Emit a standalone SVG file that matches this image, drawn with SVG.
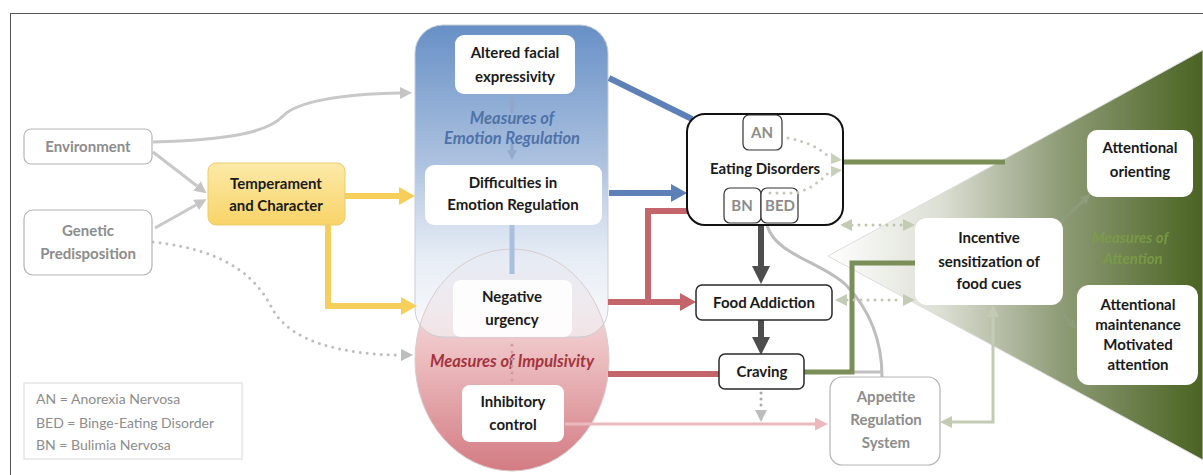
<svg xmlns="http://www.w3.org/2000/svg" width="1203" height="475" viewBox="0 0 1203 475">
<style>
text{font-family:Lato,"Liberation Sans",sans-serif;font-weight:bold;font-size:15px;fill:#1a1a1a;text-anchor:middle}
.g{fill:#8c8c8c}
.wbox{fill:#fff;stroke:none}
.gbox{fill:#fff;stroke:#b4b4b4;stroke-width:1.2}
.kbox{fill:#fff;stroke:#2a2a2a;stroke-width:1.5}
.leg{font-weight:normal;font-size:14px;fill:#8c8c8c;text-anchor:start}
.mer{font-style:italic;font-size:16.5px;fill:#4f72a8}
.mim{font-style:italic;font-size:16.5px;fill:#a3343f}
.mat{font-style:italic;font-size:15px;fill:#7c9e47;opacity:.85}
.c{fill:none}
</style>
<defs>
<linearGradient id="gBlue" x1="0" y1="0" x2="0" y2="1">
<stop offset="0" stop-color="#6890c6"/>
<stop offset="0.45" stop-color="#aec3e0"/>
<stop offset="0.75" stop-color="#e3eaf4" stop-opacity="0.85"/>
<stop offset="1" stop-color="#f4f5f8" stop-opacity="0.6"/>
</linearGradient>
<linearGradient id="gPink" x1="0" y1="0" x2="0" y2="1">
<stop offset="0" stop-color="#fbf4f4"/>
<stop offset="0.5" stop-color="#ecbcbf"/>
<stop offset="1" stop-color="#d37b82"/>
</linearGradient>
<linearGradient id="gYel" x1="0" y1="0" x2="0" y2="1">
<stop offset="0" stop-color="#fdeaa8"/>
<stop offset="1" stop-color="#f8d468"/>
</linearGradient>
<linearGradient id="gTri" gradientUnits="userSpaceOnUse" x1="828" y1="0" x2="1203" y2="0">
<stop offset="0" stop-color="#ffffff"/>
<stop offset="0.3" stop-color="#dcdfd4"/>
<stop offset="0.62" stop-color="#8f9c77"/>
<stop offset="1" stop-color="#4a6322"/>
</linearGradient>
<marker id="aGray" viewBox="0 0 10 10" refX="0" refY="5" markerWidth="12" markerHeight="12" markerUnits="userSpaceOnUse" orient="auto"><path d="M0,0L10,5L0,10z" fill="#c4c4c4"/></marker>
<marker id="aDot" viewBox="0 0 10 10" refX="0" refY="5" markerWidth="12" markerHeight="12" markerUnits="userSpaceOnUse" orient="auto"><path d="M0,0L10,5L0,10z" fill="#bdbdbd"/></marker>
<marker id="aYel" viewBox="0 0 10 10" refX="0" refY="5" markerWidth="16" markerHeight="18" markerUnits="userSpaceOnUse" orient="auto" preserveAspectRatio="none"><path d="M0,0L10,5L0,10z" fill="#f5cf5a"/></marker>
<marker id="aBlue" viewBox="0 0 10 10" refX="0" refY="5" markerWidth="16" markerHeight="18" markerUnits="userSpaceOnUse" orient="auto" preserveAspectRatio="none"><path d="M0,0L10,5L0,10z" fill="#5d80b6"/></marker>
<marker id="aRed" viewBox="0 0 10 10" refX="0" refY="5" markerWidth="16" markerHeight="18" markerUnits="userSpaceOnUse" orient="auto" preserveAspectRatio="none"><path d="M0,0L10,5L0,10z" fill="#c4656b"/></marker>
<marker id="aDark" viewBox="0 0 10 10" refX="0" refY="5" markerWidth="18" markerHeight="18" markerUnits="userSpaceOnUse" orient="auto" preserveAspectRatio="none"><path d="M0,0L10,5L0,10z" fill="#4d4d4d"/></marker>
<marker id="aGrn" viewBox="0 0 10 10" refX="0" refY="5" markerWidth="10" markerHeight="10" markerUnits="userSpaceOnUse" orient="auto"><path d="M0,0L10,5L0,10z" fill="#8e9c7c"/></marker>
<marker id="aLg" viewBox="0 0 10 10" refX="0" refY="5" markerWidth="12" markerHeight="12" markerUnits="userSpaceOnUse" orient="auto-start-reverse"><path d="M0,0L10,5L0,10z" fill="#c3cbb4"/></marker>
<marker id="aPink" viewBox="0 0 10 10" refX="0" refY="5" markerWidth="13" markerHeight="13" markerUnits="userSpaceOnUse" orient="auto"><path d="M0,0L10,5L0,10z" fill="#e9b9bd"/></marker>
<marker id="aEB" viewBox="0 0 10 10" refX="0" refY="5" markerWidth="10" markerHeight="10" markerUnits="userSpaceOnUse" orient="auto"><path d="M0,0L10,5L0,10z" fill="#8fa6c8" opacity="0.8"/></marker>
</defs>

<rect x="10.5" y="13.5" width="1200" height="470" fill="#fff" stroke="#555" stroke-width="1"/>

<g id="attention-region">
<polygon points="828,256 1203,50 1203,460" fill="url(#gTri)" stroke="#dcdcdc" stroke-width="1"/>
<text class="mat" x="1130" y="243">Measures of</text>
<text class="mat" x="1133" y="264">Attention</text>
</g>

<g id="regions">
<ellipse cx="512" cy="360" rx="97" ry="111" fill="url(#gPink)"/>
<rect x="415" y="25" width="193" height="312" rx="28" fill="url(#gBlue)"/>
<ellipse cx="512" cy="360" rx="97" ry="111" fill="none" stroke="#d8cccc" stroke-width="1"/>
<rect x="415" y="25" width="193" height="312" rx="28" fill="none" stroke="#c9cdd6" stroke-width="1"/>
<text class="mer" x="512" y="124">Measures of</text>
<text class="mer" x="512" y="144">Emotion Regulation</text>
<text class="mim" x="512" y="367">Measures of Impulsivity</text>
</g>

<g id="connectors">
<path class="c" d="M153,142 C230,140 268,132 283,116 C296,102 340,94 400,93" stroke="#c8c8c8" stroke-width="3" marker-end="url(#aGray)"/>
<path class="c" d="M153,152 L197,186" stroke="#c8c8c8" stroke-width="3" marker-end="url(#aGray)"/>
<path class="c" d="M155,228 L196,205" stroke="#c8c8c8" stroke-width="3" marker-end="url(#aGray)"/>
<path class="c" d="M153,242 C230,250 258,280 273,310 C290,340 340,355 401,355" stroke="#bdbdbd" stroke-width="3" stroke-linecap="round" stroke-dasharray="0 7" marker-end="url(#aDot)"/>
<path class="c" d="M345,196 L399,196" stroke="#f5cf5a" stroke-width="6" marker-end="url(#aYel)"/>
<path class="c" d="M328,225 L328,306 L401,306" stroke="#f5cf5a" stroke-width="6" marker-end="url(#aYel)"/>
<path class="c" d="M512,113 L512,105" stroke="#8fa6c8" stroke-width="3" marker-end="url(#aEB)"/>
<path class="c" d="M512,144 L512,150" stroke="#8fa6c8" stroke-width="3" marker-end="url(#aEB)"/>
<path class="c" d="M512,225 L512,274" stroke="#a9bfdc" stroke-width="5"/>
<path class="c" d="M512,345 L512,382" stroke="#cf9aa0" stroke-width="3" stroke-linecap="round" stroke-dasharray="0 7"/>
<path class="c" d="M609,78 L692,119" stroke="#5d80b6" stroke-width="6"/>
<path class="c" d="M609,193 L671,193" stroke="#5d80b6" stroke-width="6" marker-end="url(#aBlue)"/>
<path class="c" d="M608,302 L680,302" stroke="#c4656b" stroke-width="6" marker-end="url(#aRed)"/>
<path class="c" d="M648,302 L648,211 L708,211" stroke="#c4656b" stroke-width="6" marker-end="url(#aRed)"/>
<path class="c" d="M608,374 L719,374" stroke="#c4656b" stroke-width="6"/>
<path class="c" d="M565,424 L815,424" stroke="#e9b9bd" stroke-width="3" marker-end="url(#aPink)"/>
<path class="c" d="M761,225 L761,266" stroke="#4d4d4d" stroke-width="6" marker-end="url(#aDark)"/>
<path class="c" d="M761,320 L761,337" stroke="#4d4d4d" stroke-width="6" marker-end="url(#aDark)"/>
<path class="c" d="M761,393 L761,410" stroke="#aaaaaa" stroke-width="3" stroke-linecap="round" stroke-dasharray="0 6" marker-end="url(#aDot)"/>
<path class="c" d="M767,225 C775,255 822,262 846,285 C870,310 882,340 882,377" stroke="#bdbdbd" stroke-width="3"/>
<path class="c" d="M804,372 L882,372" stroke="#c0c0c0" stroke-width="3"/>
<path class="c" d="M843,162 L1005,162" stroke="#7b8e58" stroke-width="5"/>
<path class="c" d="M804,372 L852,372 L852,263 L915,263" stroke="#7b8e58" stroke-width="5"/>
<path class="c" d="M1062,221 L1083,201" stroke="#8e9c7c" stroke-width="3" marker-end="url(#aGrn)"/>
<path class="c" d="M1055,306 L1070,322" stroke="#8e9c7c" stroke-width="3" marker-end="url(#aGrn)"/>
<path class="c" d="M852,225 L903,225" stroke="#bfc6b0" stroke-width="3" stroke-linecap="round" stroke-dasharray="0 7" marker-start="url(#aLg)" marker-end="url(#aLg)"/>
<path class="c" d="M847,300 L903,300" stroke="#bfc6b0" stroke-width="3" stroke-linecap="round" stroke-dasharray="0 7" marker-start="url(#aLg)" marker-end="url(#aLg)"/>
<path class="c" d="M952,422 L993,422 L993,317" stroke="#c3cbb4" stroke-width="3" marker-start="url(#aLg)" marker-end="url(#aLg)"/>
</g>

<g id="environment">
<rect class="gbox" x="24" y="129" width="128" height="35" rx="7"/>
<text class="g" x="88" y="152">Environment</text>
</g>
<g id="genetic-predisposition">
<rect class="gbox" x="24" y="210" width="128" height="65" rx="9"/>
<text class="g" x="88" y="236">Genetic</text>
<text class="g" x="88" y="259">Predisposition</text>
</g>
<g id="temperament-character">
<rect x="208" y="163" width="137" height="62" rx="8" fill="url(#gYel)" stroke="#e9cc70" stroke-width="1"/>
<text x="276" y="189">Temperament</text>
<text x="276" y="211">and Character</text>
</g>
<g id="legend">
<rect x="24" y="383" width="218" height="76" fill="#fff" stroke="#d8d8d8" stroke-width="1"/>
<text class="leg" x="36" y="404">AN = Anorexia Nervosa</text>
<text class="leg" x="36" y="428">BED = Binge-Eating Disorder</text>
<text class="leg" x="36" y="450">BN = Bulimia Nervosa</text>
</g>
<g id="altered-facial-expressivity">
<rect class="wbox" x="455" y="35" width="120" height="59" rx="9"/>
<text x="515" y="58">Altered facial</text>
<text x="515" y="82">expressivity</text>
</g>
<g id="difficulties-emotion-regulation">
<rect class="wbox" x="425" y="165" width="177" height="60" rx="9"/>
<text x="513" y="188">Difficulties in</text>
<text x="513" y="210">Emotion Regulation</text>
</g>
<g id="negative-urgency">
<rect x="453" y="280" width="119" height="57" rx="8" fill="#fff" fill-opacity="0.88"/>
<text x="512" y="302">Negative</text>
<text x="512" y="325">urgency</text>
</g>
<g id="inhibitory-control">
<rect class="wbox" x="462" y="385" width="102" height="57" rx="8"/>
<text x="513" y="407">Inhibitory</text>
<text x="513" y="430">control</text>
</g>
<g id="eating-disorders">
<rect x="687" y="114" width="156" height="111" rx="18" fill="#fff" stroke="#111" stroke-width="2"/>
<rect x="743" y="115" width="39" height="35" rx="6" fill="#fff" stroke="#333" stroke-width="1.2"/>
<text class="g" x="762" y="138">AN</text>
<text x="765" y="174">Eating Disorders</text>
<rect x="724" y="188" width="37" height="35" rx="6" fill="#fff" stroke="#333" stroke-width="1.2"/>
<rect x="761" y="188" width="37" height="35" rx="6" fill="#fff" stroke="#333" stroke-width="1.2"/>
<text class="g" x="742" y="211">BN</text>
<text class="g" x="780" y="211">BED</text>
<path class="c" d="M788,138 C805,141 820,148 829,157" stroke="#c3c9b8" stroke-width="3" stroke-linecap="round" stroke-dasharray="0 7"/>
<path class="c" d="M770,193 L796,193 C808,190 820,182 829,172" stroke="#c3c9b8" stroke-width="3" stroke-linecap="round" stroke-dasharray="0 7"/>
<polygon points="831,153 842,160 831,164" fill="#c8cfba"/>
<polygon points="831,166 842,170 831,177" fill="#c8cfba"/>
</g>
<g id="food-addiction">
<rect class="kbox" x="696" y="285" width="136" height="35" rx="6"/>
<text x="764" y="308">Food Addiction</text>
</g>
<g id="craving">
<rect class="kbox" x="719" y="354" width="85" height="35" rx="6"/>
<text x="762" y="377">Craving</text>
</g>
<g id="appetite-regulation-system">
<rect class="gbox" x="830" y="377" width="110" height="88" rx="12"/>
<text class="g" x="886" y="402">Appetite</text>
<text class="g" x="886" y="425">Regulation</text>
<text class="g" x="886" y="448">System</text>
</g>
<g id="incentive-sensitization">
<rect class="wbox" x="915" y="218" width="148" height="87" rx="12"/>
<text x="989" y="243">Incentive</text>
<text x="989" y="267">sensitization of</text>
<text x="989" y="289">food cues</text>
</g>
<g id="attentional-orienting">
<rect class="wbox" x="1087" y="130" width="106" height="67" rx="10"/>
<text x="1140" y="153">Attentional</text>
<text x="1140" y="177">orienting</text>
</g>
<g id="attentional-maintenance">
<rect class="wbox" x="1077" y="285" width="121" height="100" rx="12"/>
<text x="1138" y="310">Attentional</text>
<text x="1138" y="330">maintenance</text>
<text x="1138" y="350">Motivated</text>
<text x="1138" y="370">attention</text>
</g>
</svg>
